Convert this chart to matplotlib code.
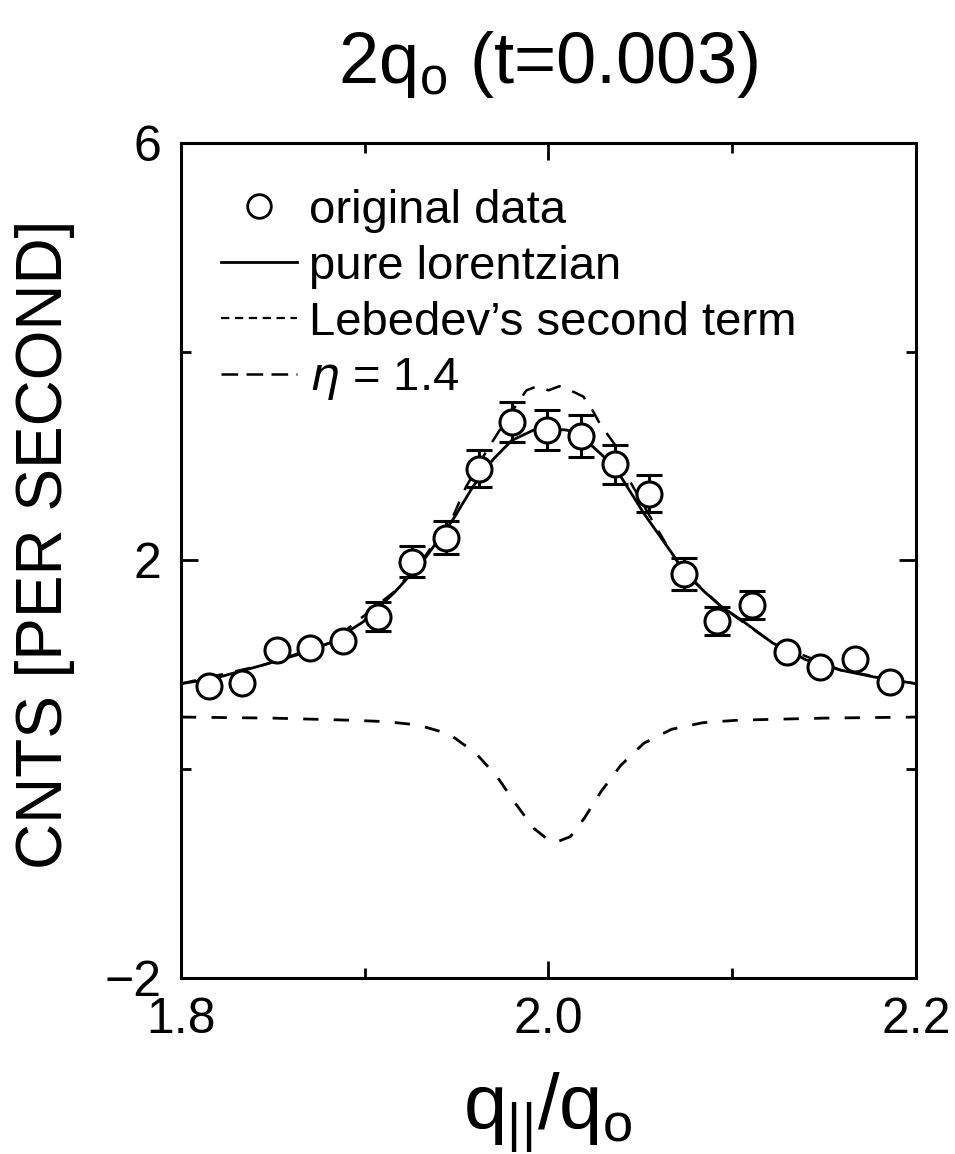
import matplotlib
matplotlib.use('Agg')
import matplotlib.pyplot as plt
from matplotlib.lines import Line2D
import numpy as np

plt.rcParams['font.family'] = ['Liberation Sans', 'DejaVu Sans']
plt.rcParams['mathtext.fontset'] = 'custom'
plt.rcParams['mathtext.rm'] = 'Liberation Sans'
plt.rcParams['mathtext.it'] = 'DejaVu Sans:italic'
plt.rcParams['lines.scale_dashes'] = False

# data points
q = [1.815, 1.833, 1.852, 1.870, 1.888, 1.907, 1.926, 1.944, 1.962, 1.980, 1.999,
     2.018, 2.036, 2.055, 2.074, 2.092, 2.111, 2.130, 2.148, 2.167, 2.186]
cnts = [0.80, 0.83, 1.14, 1.16, 1.23, 1.46, 1.99, 2.22, 2.88, 3.33, 3.25,
        3.19, 2.92, 2.64, 1.87, 1.42, 1.57, 1.12, 0.98, 1.06, 0.84]
err = [0, 0, 0, 0, 0, 0.14, 0.15, 0.155, 0.18, 0.19, 0.19,
       0.20, 0.19, 0.18, 0.15, 0.13, 0.135, 0, 0, 0, 0]

# pure lorentzian
lor_x = [1.800, 1.818, 1.845, 1.863, 1.881, 1.899, 1.916, 1.932, 1.948, 1.959, 1.970,
         1.980, 1.992, 2.000, 2.010, 2.018, 2.036, 2.052, 2.068, 2.074, 2.085, 2.094,
         2.105, 2.122, 2.140, 2.159, 2.177, 2.200]
lor_y = [0.82, 0.87, 1.00, 1.095, 1.21, 1.41, 1.69, 2.00, 2.39, 2.71, 2.97,
         3.15, 3.25, 3.26, 3.25, 3.19, 2.90, 2.45, 2.05, 1.89, 1.70, 1.56,
         1.43, 1.21, 1.05, 0.95, 0.885, 0.82]

# Lebedev's second term
leb_x = [1.800, 1.850, 1.892, 1.912, 1.929, 1.946, 1.9605, 1.972, 1.982, 1.992, 1.9995,
         2.004, 2.012, 2.0195, 2.0286, 2.0395, 2.052, 2.067, 2.084, 2.103, 2.150, 2.200]
leb_y = [0.50, 0.49, 0.47, 0.456, 0.424, 0.338, 0.153, -0.07, -0.326, -0.565, -0.67,
         -0.70, -0.645, -0.47, -0.215, 0.04, 0.25, 0.383, 0.446, 0.47, 0.49, 0.50]

# eta = 1.4
eta_x = [1.800, 1.845, 1.881, 1.916, 1.932, 1.948, 1.955, 1.966, 1.976, 1.988, 1.994,
         2.000, 2.006, 2.012, 2.019, 2.024, 2.028, 2.037, 2.044, 2.056, 2.066, 2.074,
         2.094, 2.122, 2.159, 2.200]
eta_y = [0.82, 1.00, 1.21, 1.70, 2.02, 2.42, 2.70, 3.04, 3.32, 3.63, 3.67,
         3.63, 3.67, 3.63, 3.57, 3.44, 3.31, 3.09, 2.77, 2.40, 2.10, 1.89,
         1.56, 1.21, 0.95, 0.82]

fig = plt.figure(figsize=(9.55, 11.54), dpi=100)
ax = fig.add_axes([0.1895, 0.1525, 0.7695, 0.7236])

ax.plot(lor_x, lor_y, color='black', lw=2.0, zorder=2)
ax.plot(leb_x, leb_y, color='black', lw=2.0, dashes=(11, 11), zorder=2)
ax.plot(eta_x, eta_y, color='black', lw=1.8, dashes=(11, 9), zorder=2)

q = np.array(q)
cnts = np.array(cnts)
err = np.array(err)
m = err > 0
ax.errorbar(q[m], cnts[m], yerr=err[m], fmt='none', ecolor='black',
            elinewidth=2.2, capsize=9.5, capthick=2.2, zorder=3)
ax.plot(q, cnts, 'o', ms=18, mfc='white', mec='black', mew=2.2, zorder=4)

ax.set_xlim(1.8, 2.2)
ax.set_ylim(-2, 6)
ax.set_xticks([1.8, 2.0, 2.2])
ax.set_xticklabels(['1.8', '2.0', '2.2'])
ax.set_xticks([1.9, 2.1], minor=True)
ax.set_yticks([-2, 2, 6])
ax.set_yticklabels(['\u22122', '2', '6'])
ax.set_yticks([0, 4], minor=True)
ax.tick_params(which='both', direction='in', top=True, right=True,
               width=2, labelsize=36, pad=14)
ax.tick_params(which='major', length=12)
ax.tick_params(which='minor', length=7)
for s in ax.spines.values():
    s.set_linewidth(2.2)

handles = [
    Line2D([], [], ls='none', marker='o', ms=17, mfc='white', mec='black', mew=2),
    Line2D([], [], color='black', lw=2),
    Line2D([], [], color='black', lw=1.6, dashes=(6, 4)),
    Line2D([], [], color='black', lw=1.8, dashes=(12, 6)),
]
labels = ['original data', 'pure lorentzian', "Lebedev\u2019s second term", r'$\eta$ = 1.4']
ax.legend(handles, labels, loc='upper left', bbox_to_anchor=(0.055, 0.945),
          frameon=False, fontsize=34, handlelength=1.6, handletextpad=0.25,
          labelspacing=0.25, borderpad=0, borderaxespad=0)

fig.text(0.574, 0.944, r'$\mathregular{2q_o}$ (t=0.003)', fontsize=52,
         ha='center', va='center')
fig.text(0.047, 0.528, 'CNTS [PER SECOND]', fontsize=46, rotation=90,
         ha='center', va='center')
fig.text(0.574, 0.036, r'$\mathregular{q_{||}/q_o}$', fontsize=56,
         ha='center', va='center')

fig.savefig('out.png', dpi=100)
